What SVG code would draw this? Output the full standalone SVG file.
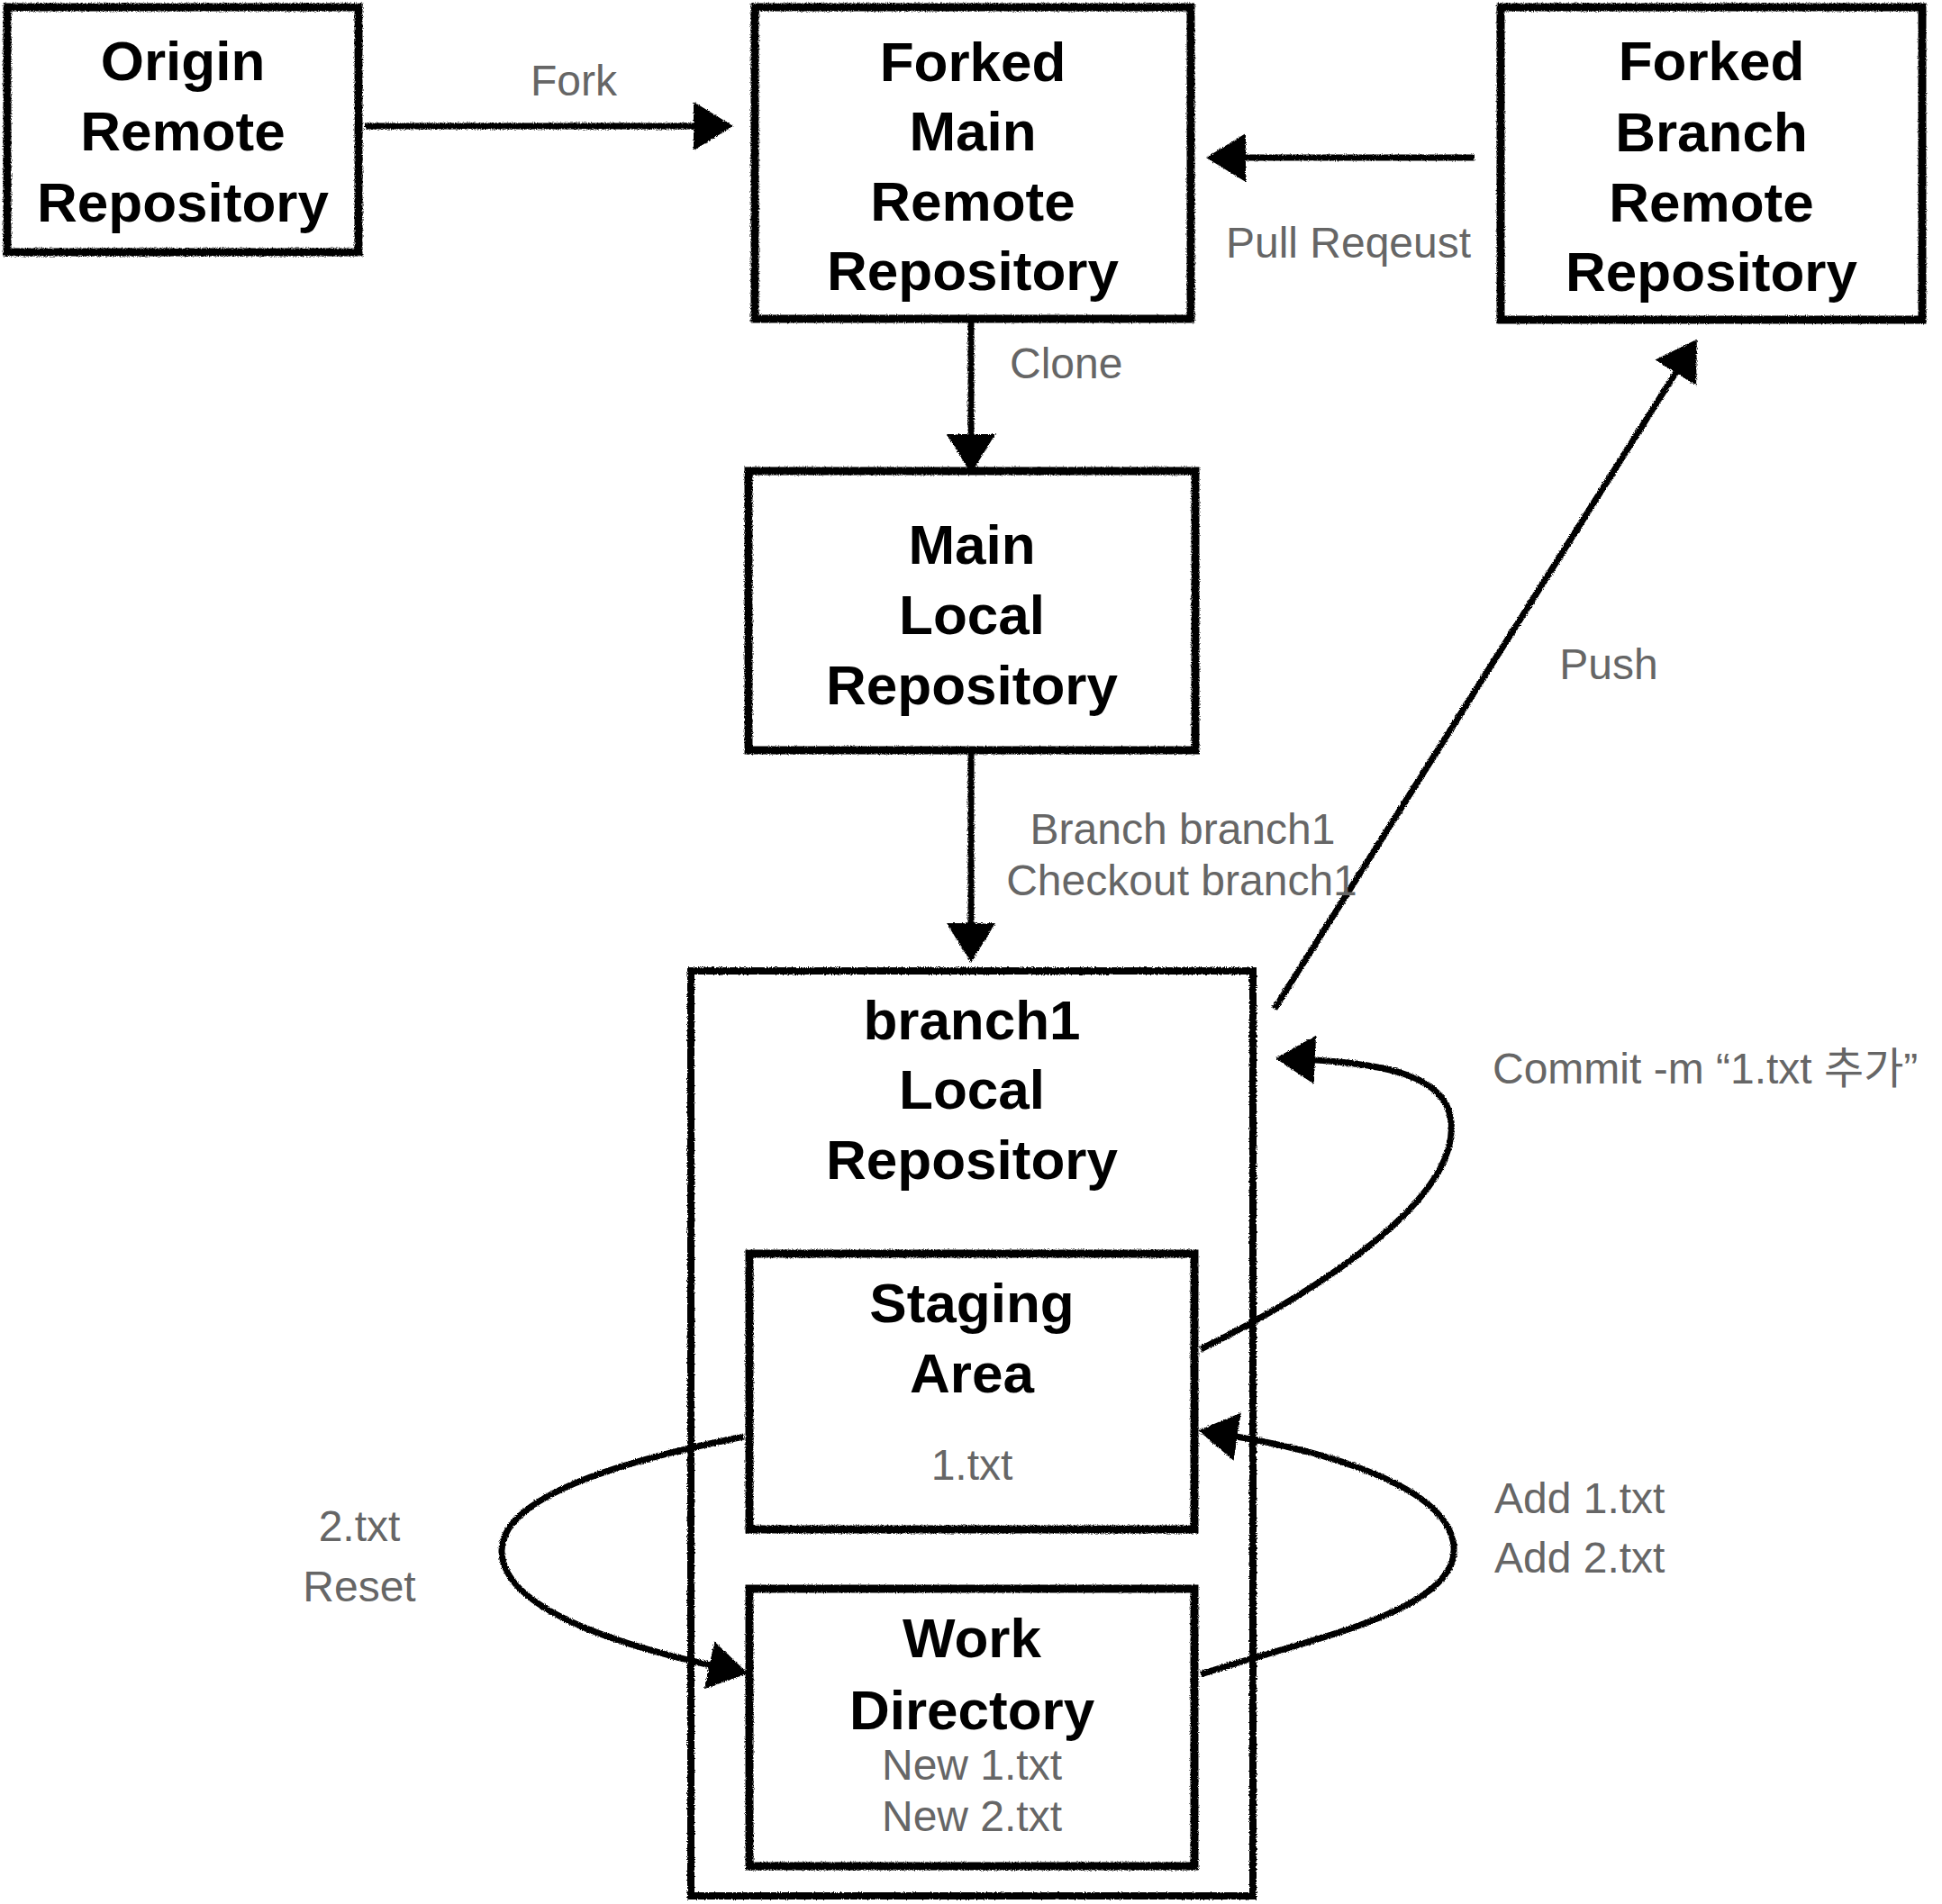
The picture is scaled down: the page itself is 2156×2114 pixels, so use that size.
<svg xmlns="http://www.w3.org/2000/svg" width="2156" height="2114" viewBox="0 0 2156 2114">
<defs>
<style>
.box{fill:none;stroke:#000;stroke-width:9}
.outer{fill:none;stroke:#000;stroke-width:8}
.line{fill:none;stroke:#000;stroke-width:7}
.title{font-family:"Liberation Sans","Helvetica Neue",Arial,sans-serif;font-weight:bold;font-size:62px;fill:#000;text-anchor:middle}
.lbl{font-family:"Liberation Sans","Helvetica Neue",Arial,"Noto Sans CJK KR",sans-serif;font-size:48px;fill:#666}
.mid{text-anchor:middle}
</style>
<filter id="rough" x="-5%" y="-5%" width="110%" height="110%">
<feTurbulence type="fractalNoise" baseFrequency="0.9" numOctaves="1" seed="3" result="n"/>
<feDisplacementMap in="SourceGraphic" in2="n" scale="4" xChannelSelector="R" yChannelSelector="G"/>
</filter>
<marker id="arr" markerUnits="userSpaceOnUse" markerWidth="46" markerHeight="56" refX="20" refY="27" orient="auto">
<path d="M0,0 L44,27 L0,54 Z" fill="#000"/>
</marker>
</defs>
<rect width="2156" height="2114" fill="#fff"/>

<g id="connectors" filter="url(#rough)">
<path id="e-fork" class="line" d="M405,140 L790,140" marker-end="url(#arr)"/>
<path id="e-pull" class="line" d="M1637,175 L1363,175" marker-end="url(#arr)"/>
<path id="e-clone" class="line" d="M1078,357 L1078,502" marker-end="url(#arr)"/>
<path id="e-branch" class="line" d="M1078,835 L1078,1045" marker-end="url(#arr)"/>
<path id="e-push" class="line" d="M1415,1120 L1871,397" marker-end="url(#arr)"/>
<path id="e-commit" class="line" d="M1333,1498 C1470,1430 1620,1330 1611,1245 C1606,1195 1540,1180 1440,1176" marker-end="url(#arr)"/>
<path id="e-add" class="line" d="M1333,1859 C1450,1820 1620,1790 1614,1717 C1608,1650 1470,1610 1354,1592" marker-end="url(#arr)"/>
<path id="e-reset" class="line" d="M826,1595 C700,1620 555,1660 557,1723 C559,1790 700,1830 807,1853" marker-end="url(#arr)"/>
</g>

<g id="edge-labels">
<text class="lbl mid" x="637" y="106">Fork</text>
<text class="lbl mid" x="1497" y="286">Pull Reqeust</text>
<text class="lbl" x="1121" y="420">Clone</text>
<text class="lbl mid" x="1786" y="754">Push</text>
<text class="lbl mid" x="1313" y="937">Branch branch1</text>
<text class="lbl mid" x="1312" y="994">Checkout branch1</text>
<text class="lbl" x="1657" y="1203">Commit -m “1.txt 추가”</text>
<text class="lbl" x="1659" y="1680">Add 1.txt</text>
<text class="lbl" x="1659" y="1746">Add 2.txt</text>
<text class="lbl mid" x="399" y="1711">2.txt</text>
<text class="lbl mid" x="399" y="1778">Reset</text>
</g>

<g id="origin">
<rect class="box" x="8" y="8" width="390" height="272" filter="url(#rough)"/>
<text class="title" x="203" y="89">Origin</text>
<text class="title" x="203" y="167">Remote</text>
<text class="title" x="203" y="246">Repository</text>
</g>

<g id="forked-main">
<rect class="box" x="838" y="8" width="484" height="346" filter="url(#rough)"/>
<text class="title" x="1080" y="90">Forked</text>
<text class="title" x="1080" y="167">Main</text>
<text class="title" x="1080" y="245">Remote</text>
<text class="title" x="1080" y="322">Repository</text>
</g>

<g id="forked-branch">
<rect class="box" x="1666" y="8" width="468" height="347" filter="url(#rough)"/>
<text class="title" x="1900" y="89">Forked</text>
<text class="title" x="1900" y="168">Branch</text>
<text class="title" x="1900" y="246">Remote</text>
<text class="title" x="1900" y="323">Repository</text>
</g>

<g id="main-local">
<rect class="box" x="831" y="523" width="496" height="310" filter="url(#rough)"/>
<text class="title" x="1079" y="626">Main</text>
<text class="title" x="1079" y="704">Local</text>
<text class="title" x="1079" y="782">Repository</text>
</g>

<g id="branch1-local">
<rect class="outer" x="767" y="1078" width="624" height="1027" filter="url(#rough)"/>
<text class="title" x="1079" y="1154">branch1</text>
<text class="title" x="1079" y="1231">Local</text>
<text class="title" x="1079" y="1309">Repository</text>
</g>

<g id="staging">
<rect class="box" x="832" y="1392" width="494" height="306" filter="url(#rough)"/>
<text class="title" x="1079" y="1468">Staging</text>
<text class="title" x="1079" y="1546">Area</text>
<text class="lbl mid" x="1079" y="1643">1.txt</text>
</g>

<g id="work">
<rect class="box" x="832" y="1764" width="494" height="308" filter="url(#rough)"/>
<text class="title" x="1079" y="1840">Work</text>
<text class="title" x="1079" y="1920">Directory</text>
<text class="lbl mid" x="1079" y="1976">New 1.txt</text>
<text class="lbl mid" x="1079" y="2033">New 2.txt</text>
</g>
</svg>
